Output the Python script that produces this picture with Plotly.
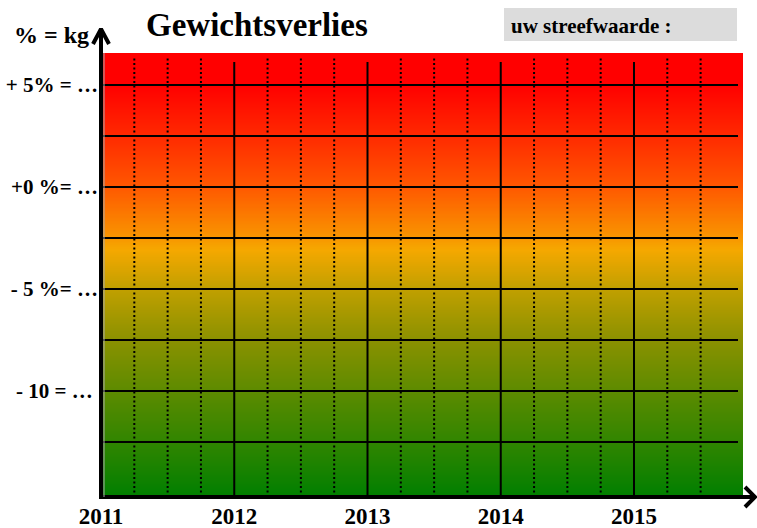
import numpy as np
import plotly.graph_objects as go

# ---- data ----
years = [2011, 2012, 2013, 2014, 2015]
year_labels = ["2011", "2012", "2013", "2014", "2015"]
quarters = [2011.25, 2011.5, 2011.75, 2012.25, 2012.5, 2012.75,
            2013.25, 2013.5, 2013.75, 2014.25, 2014.5, 2014.75,
            2015.25, 2015.5]
grid_levels = [5, 2.5, 0, -2.5, -5, -7.5, -10, -12.5]
y_tick_vals = [5, 0, -5, -10]
y_tick_text = ["+ 5% = …", "+0 %= …", "- 5 %= …", "- 10 = …\u00a0"]
title_text = "Gewichtsverlies"
unit_text = "% = kg"
target_text = "uw streefwaarde :"

# gradient colour stops (value in %, colour)
grad_stops = [(-15.2, "#007f00"), (-12.6, "#2f8500"), (-9.95, "#5e8b00"),
              (-7.35, "#8e9200"), (-4.95, "#c2a000"), (-3.09, "#f5a800"),
              (-2.35, "#f99200"), (0.0, "#ff5800"), (2.7, "#ff2600"),
              (5.0, "#ff0000"), (6.57, "#ff0000")]

# ---- geometry (plot area = whole figure) ----
W, H = 757, 528
PX_X0, PX_PER_YEAR = 101, 133.25     # pixel of 2011, pixels per year
PX_Y0, PX_PER_PCT = 187, 20.4        # pixel of 0 %, pixels per %


def X(p):
    return 2011 + (p - PX_X0) / PX_PER_YEAR


def Y(p):
    return (PX_Y0 - p) / PX_PER_PCT


X_MIN, X_MAX = X(0), X(W)
Y_MIN, Y_MAX = Y(H), Y(0)
AX_Y = Y(497)          # x-axis line level
GRAD_TOP = Y(53)
GRAD_RIGHT = X(743)
LINE_RIGHT = X(738)
YEAR_TOP = Y(62)
DOT_TOP = Y(58)

FONT = "Liberation Serif, Times New Roman, serif"

fig = go.Figure()

# gradient background
edges = np.linspace(Y(495), GRAD_TOP, 401)
centers = (edges[:-1] + edges[1:]) / 2
zmin, zmax = grad_stops[0][0], grad_stops[-1][0]
cs = [[(v - zmin) / (zmax - zmin), c] for v, c in grad_stops]
fig.add_trace(go.Heatmap(
    x=[2011, GRAD_RIGHT], y=edges, z=[[c] for c in centers],
    zmin=zmin, zmax=zmax, colorscale=cs, showscale=False, hoverinfo="skip"))

shapes = []
# horizontal grid lines
for lv in grid_levels:
    shapes.append(dict(type="line", x0=2011, x1=LINE_RIGHT, y0=lv, y1=lv,
                       line=dict(color="black", width=2)))
# year lines
for yr in years[1:]:
    shapes.append(dict(type="line", x0=yr, x1=yr, y0=AX_Y, y1=YEAR_TOP,
                       line=dict(color="black", width=2)))
# quarter dotted lines
for q in quarters:
    shapes.append(dict(type="line", x0=q, x1=q, y0=AX_Y, y1=DOT_TOP,
                       line=dict(color="black", width=2, dash="2px,2.5px")))
# target box
shapes.append(dict(type="rect", x0=X(504), x1=X(737), y0=Y(41), y1=Y(8),
                   fillcolor="#dcdcdc", line=dict(width=0), layer="below"))
# light shadow next to y axis
shapes.append(dict(type="line", x0=X(104), x1=X(104), y0=AX_Y, y1=GRAD_TOP,
                   line=dict(color="#a8a8a8", width=1)))

# axes with chevron arrows
fig.add_trace(go.Scatter(
    x=[X(99), X(755), None, X(745), X(755), X(745)],
    y=[AX_Y, AX_Y, None, Y(487), AX_Y, Y(507)],
    mode="lines", line=dict(color="black", width=4),
    hoverinfo="skip", showlegend=False))
fig.add_trace(go.Scatter(
    x=[2011, 2011, None, X(93), 2011, X(109)],
    y=[Y(499), Y(29), None, Y(44), Y(29), Y(44)],
    mode="lines", line=dict(color="black", width=4),
    hoverinfo="skip", showlegend=False))

annotations = [
    dict(x=X(257), y=Y(25), xref="x", yref="y", text=title_text,
         showarrow=False, font=dict(family=FONT, size=33, color="black", weight="bold"),
         xanchor="center", yanchor="middle"),
    dict(x=X(91), y=Y(35), xref="x", yref="y", text=unit_text,
         showarrow=False, font=dict(family=FONT, size=24, color="black", weight="bold"),
         xanchor="right", yanchor="middle"),
    dict(x=X(509), y=Y(26), xref="x", yref="y", text=target_text,
         showarrow=False, font=dict(family=FONT, size=21, color="black", weight="bold"),
         xanchor="left", yanchor="middle"),
]

fig.update_layout(
    width=W, height=H,
    margin=dict(l=0, r=0, t=0, b=0, pad=0),
    paper_bgcolor="white", plot_bgcolor="white",
    showlegend=False,
    shapes=shapes, annotations=annotations,
    xaxis=dict(range=[X_MIN, X_MAX], tickvals=years, ticktext=year_labels,
               anchor="free", position=(H - 497) / H,
               showgrid=False, zeroline=False, showline=False, ticks="",
               tickfont=dict(family=FONT, size=23, color="black", weight="bold"),
               ticklabelstandoff=3, automargin=False),
    yaxis=dict(range=[Y_MIN, Y_MAX], tickvals=y_tick_vals, ticktext=y_tick_text,
               anchor="free", position=PX_X0 / W,
               showgrid=False, zeroline=False, showline=False, ticks="",
               tickfont=dict(family=FONT, size=21, color="black", weight="bold"),
               ticklabelstandoff=3, automargin=False),
)

fig.write_html("out.html", config={"displayModeBar": False},
               post_script="document.body.style.margin='0';")
